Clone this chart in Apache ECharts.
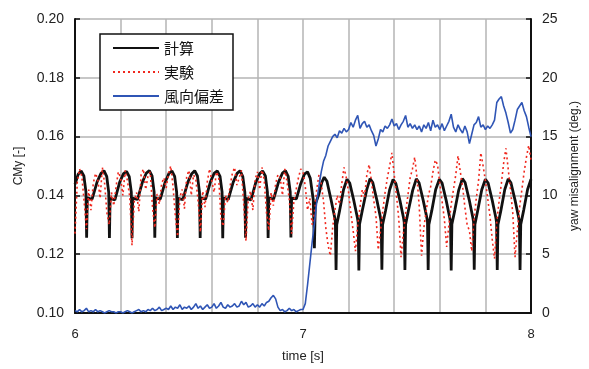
<!DOCTYPE html>
<html>
<head>
<meta charset="utf-8">
<script src="https://cdn.jsdelivr.net/npm/echarts@6/dist/echarts.min.js"></script>
<style>
  html, body { margin: 0; padding: 0; background: #fff; }
  #chart { width: 589px; height: 369px; }
</style>
</head>
<body>
<div id="chart"></div>
<script>
  // 計算 (calculation): [time s, CMy]
  var calcPts = [
    [6.000,0.1438],[6.014,0.1472],[6.027,0.1483],[6.039,0.1466],[6.048,0.1412],[6.051,0.1256],[6.054,0.1392],[6.075,0.1387],[6.097,0.1446],[6.114,0.1475],
    [6.127,0.1484],[6.139,0.1465],[6.148,0.1410],[6.151,0.1255],[6.154,0.1390],[6.175,0.1385],[6.196,0.1445],[6.213,0.1474],
    [6.226,0.1482],[6.238,0.1464],[6.247,0.1411],[6.250,0.1254],[6.253,0.1391],[6.274,0.1386],[6.296,0.1446],[6.313,0.1476],
    [6.326,0.1484],[6.338,0.1466],[6.347,0.1412],[6.350,0.1256],[6.353,0.1392],[6.374,0.1387],[6.395,0.1444],[6.412,0.1475],
    [6.425,0.1483],[6.437,0.1465],[6.446,0.1410],[6.449,0.1255],[6.452,0.1390],[6.473,0.1386],[6.495,0.1445],[6.512,0.1474],
    [6.525,0.1484],[6.537,0.1466],[6.546,0.1411],[6.549,0.1255],[6.552,0.1392],[6.573,0.1387],[6.594,0.1446],[6.611,0.1476],
    [6.624,0.1483],[6.636,0.1465],[6.645,0.1412],[6.648,0.1254],[6.651,0.1391],[6.672,0.1386],[6.694,0.1445],[6.711,0.1475],
    [6.724,0.1484],[6.736,0.1464],[6.745,0.1410],[6.748,0.1256],[6.751,0.1390],[6.772,0.1385],[6.793,0.1444],[6.810,0.1474],
    [6.823,0.1483],[6.835,0.1466],[6.844,0.1411],[6.847,0.1255],[6.850,0.1392],[6.871,0.1387],[6.893,0.1446],[6.910,0.1476],
    [6.923,0.1484],[6.935,0.1465],[6.944,0.1412],[6.947,0.1257],[6.950,0.1391],[6.971,0.1388],[6.990,0.1440],[7.006,0.1472],
    [7.020,0.1480],[7.032,0.1458],[7.045,0.1385],[7.050,0.1220],[7.054,0.1370],[7.070,0.1405],[7.083,0.1445],
    [7.093,0.1462],[7.105,0.1448],[7.123,0.1385],[7.139,0.1325],[7.142,0.1310],[7.145,0.1146],[7.148,0.1300],[7.161,0.1350],[7.178,0.1420],
    [7.193,0.1455],[7.205,0.1442],[7.223,0.1382],[7.239,0.1322],[7.242,0.1308],[7.245,0.1145],[7.248,0.1302],[7.261,0.1352],[7.279,0.1418],
    [7.294,0.1457],[7.306,0.1444],[7.324,0.1384],[7.340,0.1324],[7.343,0.1310],[7.346,0.1147],[7.349,0.1300],[7.362,0.1348],[7.380,0.1419],
    [7.395,0.1454],[7.407,0.1441],[7.425,0.1383],[7.441,0.1323],[7.444,0.1309],[7.447,0.1146],[7.450,0.1301],[7.463,0.1351],[7.481,0.1417],
    [7.497,0.1456],[7.509,0.1443],[7.527,0.1384],[7.543,0.1325],[7.546,0.1311],[7.549,0.1146],[7.552,0.1300],[7.565,0.1349],[7.582,0.1420],
    [7.598,0.1455],[7.610,0.1442],[7.628,0.1383],[7.644,0.1322],[7.647,0.1308],[7.650,0.1145],[7.653,0.1302],[7.666,0.1350],[7.683,0.1418],
    [7.699,0.1457],[7.711,0.1444],[7.729,0.1385],[7.745,0.1324],[7.748,0.1310],[7.751,0.1147],[7.754,0.1301],[7.767,0.1351],[7.784,0.1419],
    [7.800,0.1455],[7.812,0.1442],[7.830,0.1383],[7.846,0.1323],[7.849,0.1309],[7.852,0.1146],[7.855,0.1300],[7.868,0.1349],[7.885,0.1420],
    [7.900,0.1456],[7.912,0.1443],[7.930,0.1384],[7.946,0.1324],[7.949,0.1310],[7.952,0.1146],[7.955,0.1301],[7.968,0.1350],[7.985,0.1420],[8.000,0.1455]
  ];

  // 実験 (experiment) and 風向偏差 (yaw misalignment), sampled every 0.01 s from 6.00 s
  var sampleStart = 6.0;
  var sampleStep = 0.01;
  var expVals = [
    0.1270,0.1445,0.1490,0.1465,0.1380,0.1285,0.1420,0.1350,0.1440,0.1475,
    0.1455,0.1390,0.1495,0.1440,0.1340,0.1300,0.1410,0.1365,0.1430,0.1480,
    0.1460,0.1400,0.1485,0.1450,0.1395,0.1230,0.1380,0.1410,0.1345,0.1470,
    0.1490,0.1420,0.1465,0.1480,0.1360,0.1290,0.1405,0.1370,0.1440,0.1460,
    0.1425,0.1475,0.1500,0.1430,0.1330,0.1260,0.1395,0.1420,0.1355,0.1465,
    0.1485,0.1400,0.1470,0.1455,0.1380,0.1275,0.1415,0.1360,0.1445,0.1490,
    0.1450,0.1410,0.1480,0.1465,0.1325,0.1295,0.1400,0.1375,0.1430,0.1475,
    0.1495,0.1435,0.1460,0.1485,0.1370,0.1245,0.1390,0.1415,0.1350,0.1455,
    0.1480,0.1420,0.1495,0.1450,0.1340,0.1280,0.1410,0.1365,0.1440,0.1470,
    0.1460,0.1400,0.1490,0.1445,0.1385,0.1270,0.1380,0.1420,0.1460,0.1490,
    0.1480,0.1430,0.1350,0.1390,0.1300,0.1340,0.1420,0.1470,0.1440,0.1380,
    0.1290,0.1230,0.1195,0.1290,0.1350,0.1400,0.1370,0.1440,0.1495,0.1460,
    0.1410,0.1340,0.1280,0.1210,0.1300,0.1360,0.1420,0.1395,0.1470,0.1505,
    0.1450,0.1385,0.1330,0.1215,0.1280,0.1350,0.1410,0.1460,0.1500,0.1545,
    0.1470,0.1400,0.1320,0.1190,0.1270,0.1340,0.1400,0.1460,0.1490,0.1530,
    0.1460,0.1360,0.1195,0.1290,0.1345,0.1400,0.1430,0.1480,0.1520,0.1505,
    0.1440,0.1380,0.1320,0.1225,0.1300,0.1370,0.1420,0.1470,0.1535,0.1480,
    0.1430,0.1360,0.1300,0.1280,0.1210,0.1320,0.1390,0.1450,0.1545,0.1500,
    0.1450,0.1390,0.1330,0.1250,0.1185,0.1310,0.1380,0.1440,0.1510,0.1560,
    0.1490,0.1420,0.1340,0.1190,0.1280,0.1360,0.1420,0.1480,0.1530,0.1570,
    0.1520
  ];
  var yawVals = [
    0.2,0.1,0.3,0.1,0.2,0.4,0.1,0.2,0.1,0.3,
    0.1,0.2,0.1,0.0,0.1,0.2,0.1,0.1,0.0,0.1,
    0.1,0.0,0.1,0.2,0.1,0.0,0.1,0.2,0.3,0.1,
    0.2,0.1,0.3,0.2,0.4,0.2,0.3,0.5,0.2,0.3,
    0.4,0.3,0.6,0.3,0.5,0.4,0.7,0.3,0.5,0.4,
    0.6,0.3,0.5,0.8,0.4,0.6,0.3,0.5,0.7,0.4,
    0.5,0.8,0.4,0.6,0.9,0.5,0.4,0.7,0.5,0.6,
    0.8,0.5,0.6,1.0,0.7,0.9,0.5,0.6,0.8,0.5,
    0.7,0.5,0.8,0.6,0.9,1.0,1.3,1.5,1.2,0.5,
    0.2,0.3,0.1,0.2,0.4,0.2,0.3,0.1,0.2,0.3,
    0.3,0.8,2.4,4.2,6.0,7.6,9.4,10.8,12.0,12.9,
    13.4,14.2,14.6,15.0,15.2,14.9,15.5,15.3,15.7,15.4,
    15.6,16.2,15.8,16.4,16.8,15.7,16.1,16.3,15.8,16.0,
    15.5,15.1,14.2,14.8,15.6,15.4,15.9,15.7,16.0,16.5,
    15.9,16.1,15.6,16.0,16.3,16.8,15.8,16.1,15.7,16.0,
    15.6,15.9,15.4,16.0,15.7,16.2,15.5,16.4,15.8,16.0,
    15.6,16.1,15.5,15.9,16.3,16.9,15.8,15.4,16.0,15.6,
    15.3,15.9,15.4,14.4,15.2,16.0,16.2,16.7,15.8,16.0,
    15.6,15.9,15.7,16.0,16.4,17.9,18.2,18.4,17.6,17.0,
    16.2,15.3,15.6,16.4,17.3,17.6,17.9,17.2,16.7,15.8,
    15.0
  ];

  var leftTicks = [0.10, 0.20, 0.02];
  var rightTicks = [0, 25, 5];
  var timeTicks = [6, 8, 0.2];

  function withTime(vals) {
    var out = [];
    for (var i = 0; i < vals.length; i++) {
      out.push([+(sampleStart + i * sampleStep).toFixed(3), vals[i]]);
    }
    return out;
  }

  var txt = '#222';
  var font = '"Liberation Sans", Arial, sans-serif';
  var cjk = '"Noto Sans CJK JP", sans-serif';
  var gridLine = { show: true, lineStyle: { color: '#b4b4b4', width: 1.5 } };

  var chart = echarts.init(document.getElementById('chart'));
  chart.setOption({
    animation: false,
    backgroundColor: '#fff',
    grid: { left: 75, right: 52, top: 19, bottom: 56 },
    legend: {
      left: 100, top: 34,
      orient: 'vertical',
      backgroundColor: '#fff',
      borderColor: '#111', borderWidth: 1.5, borderRadius: 0,
      padding: [6, 9, 6, 12],
      itemWidth: 46, itemHeight: 12, itemGap: 8,
      itemStyle: { opacity: 0 },
      textStyle: { fontFamily: cjk, fontSize: 15, color: '#111', lineHeight: 16 },
      data: ['計算', '実験', '風向偏差']
    },
    xAxis: {
      type: 'value', min: timeTicks[0], max: timeTicks[1], interval: timeTicks[2],
      name: 'time [s]', nameLocation: 'middle', nameGap: 37,
      nameTextStyle: { fontFamily: font, fontSize: 13, color: txt },
      axisLine: { lineStyle: { color: '#111', width: 2 } },
      axisTick: { show: false },
      axisLabel: {
        margin: 15, fontFamily: font, fontSize: 13, color: txt,
        formatter: function (v) {
          var r = Math.round(v);
          return Math.abs(v - r) < 1e-6 ? String(r) : '';
        }
      },
      splitLine: gridLine
    },
    yAxis: [
      {
        type: 'value', min: leftTicks[0], max: leftTicks[1], interval: leftTicks[2],
        position: 'left',
        name: 'CMy [-]', nameLocation: 'middle', nameRotate: 90, nameGap: 50,
        nameTextStyle: { fontFamily: font, fontSize: 12, color: txt },
        axisLine: { show: true, lineStyle: { color: '#111', width: 2 } },
        axisTick: { show: true, inside: true, length: 5, lineStyle: { color: '#111', width: 1.5 } },
        axisLabel: {
          margin: 11, fontFamily: font, fontSize: 14, color: txt,
          formatter: function (v) { return v.toFixed(2); }
        },
        splitLine: gridLine
      },
      {
        type: 'value', min: rightTicks[0], max: rightTicks[1], interval: rightTicks[2],
        position: 'right',
        name: 'yaw misalignment (deg.)', nameLocation: 'middle', nameRotate: 90, nameGap: 38,
        nameTextStyle: { fontFamily: font, fontSize: 12, color: txt },
        axisLine: { show: true, lineStyle: { color: '#111', width: 2 } },
        axisTick: { show: true, inside: true, length: 5, lineStyle: { color: '#111', width: 1.5 } },
        axisLabel: { margin: 11, fontFamily: font, fontSize: 14, color: txt },
        splitLine: { show: false }
      }
    ],
    series: [
      {
        name: '計算', type: 'line', symbol: 'none', yAxisIndex: 0,
        lineStyle: { color: '#111', width: 2.8 },
        itemStyle: { color: '#111' },
        data: calcPts
      },
      {
        name: '実験', type: 'line', symbol: 'none', yAxisIndex: 0,
        lineStyle: { color: '#f0281e', width: 1.6, type: [2, 3] },
        itemStyle: { color: '#f0281e' },
        data: withTime(expVals)
      },
      {
        name: '風向偏差', type: 'line', symbol: 'none', yAxisIndex: 1,
        lineStyle: { color: '#2f55b5', width: 1.6 },
        itemStyle: { color: '#2f55b5' },
        data: withTime(yawVals)
      }
    ]
  });
</script>
</body>
</html>
